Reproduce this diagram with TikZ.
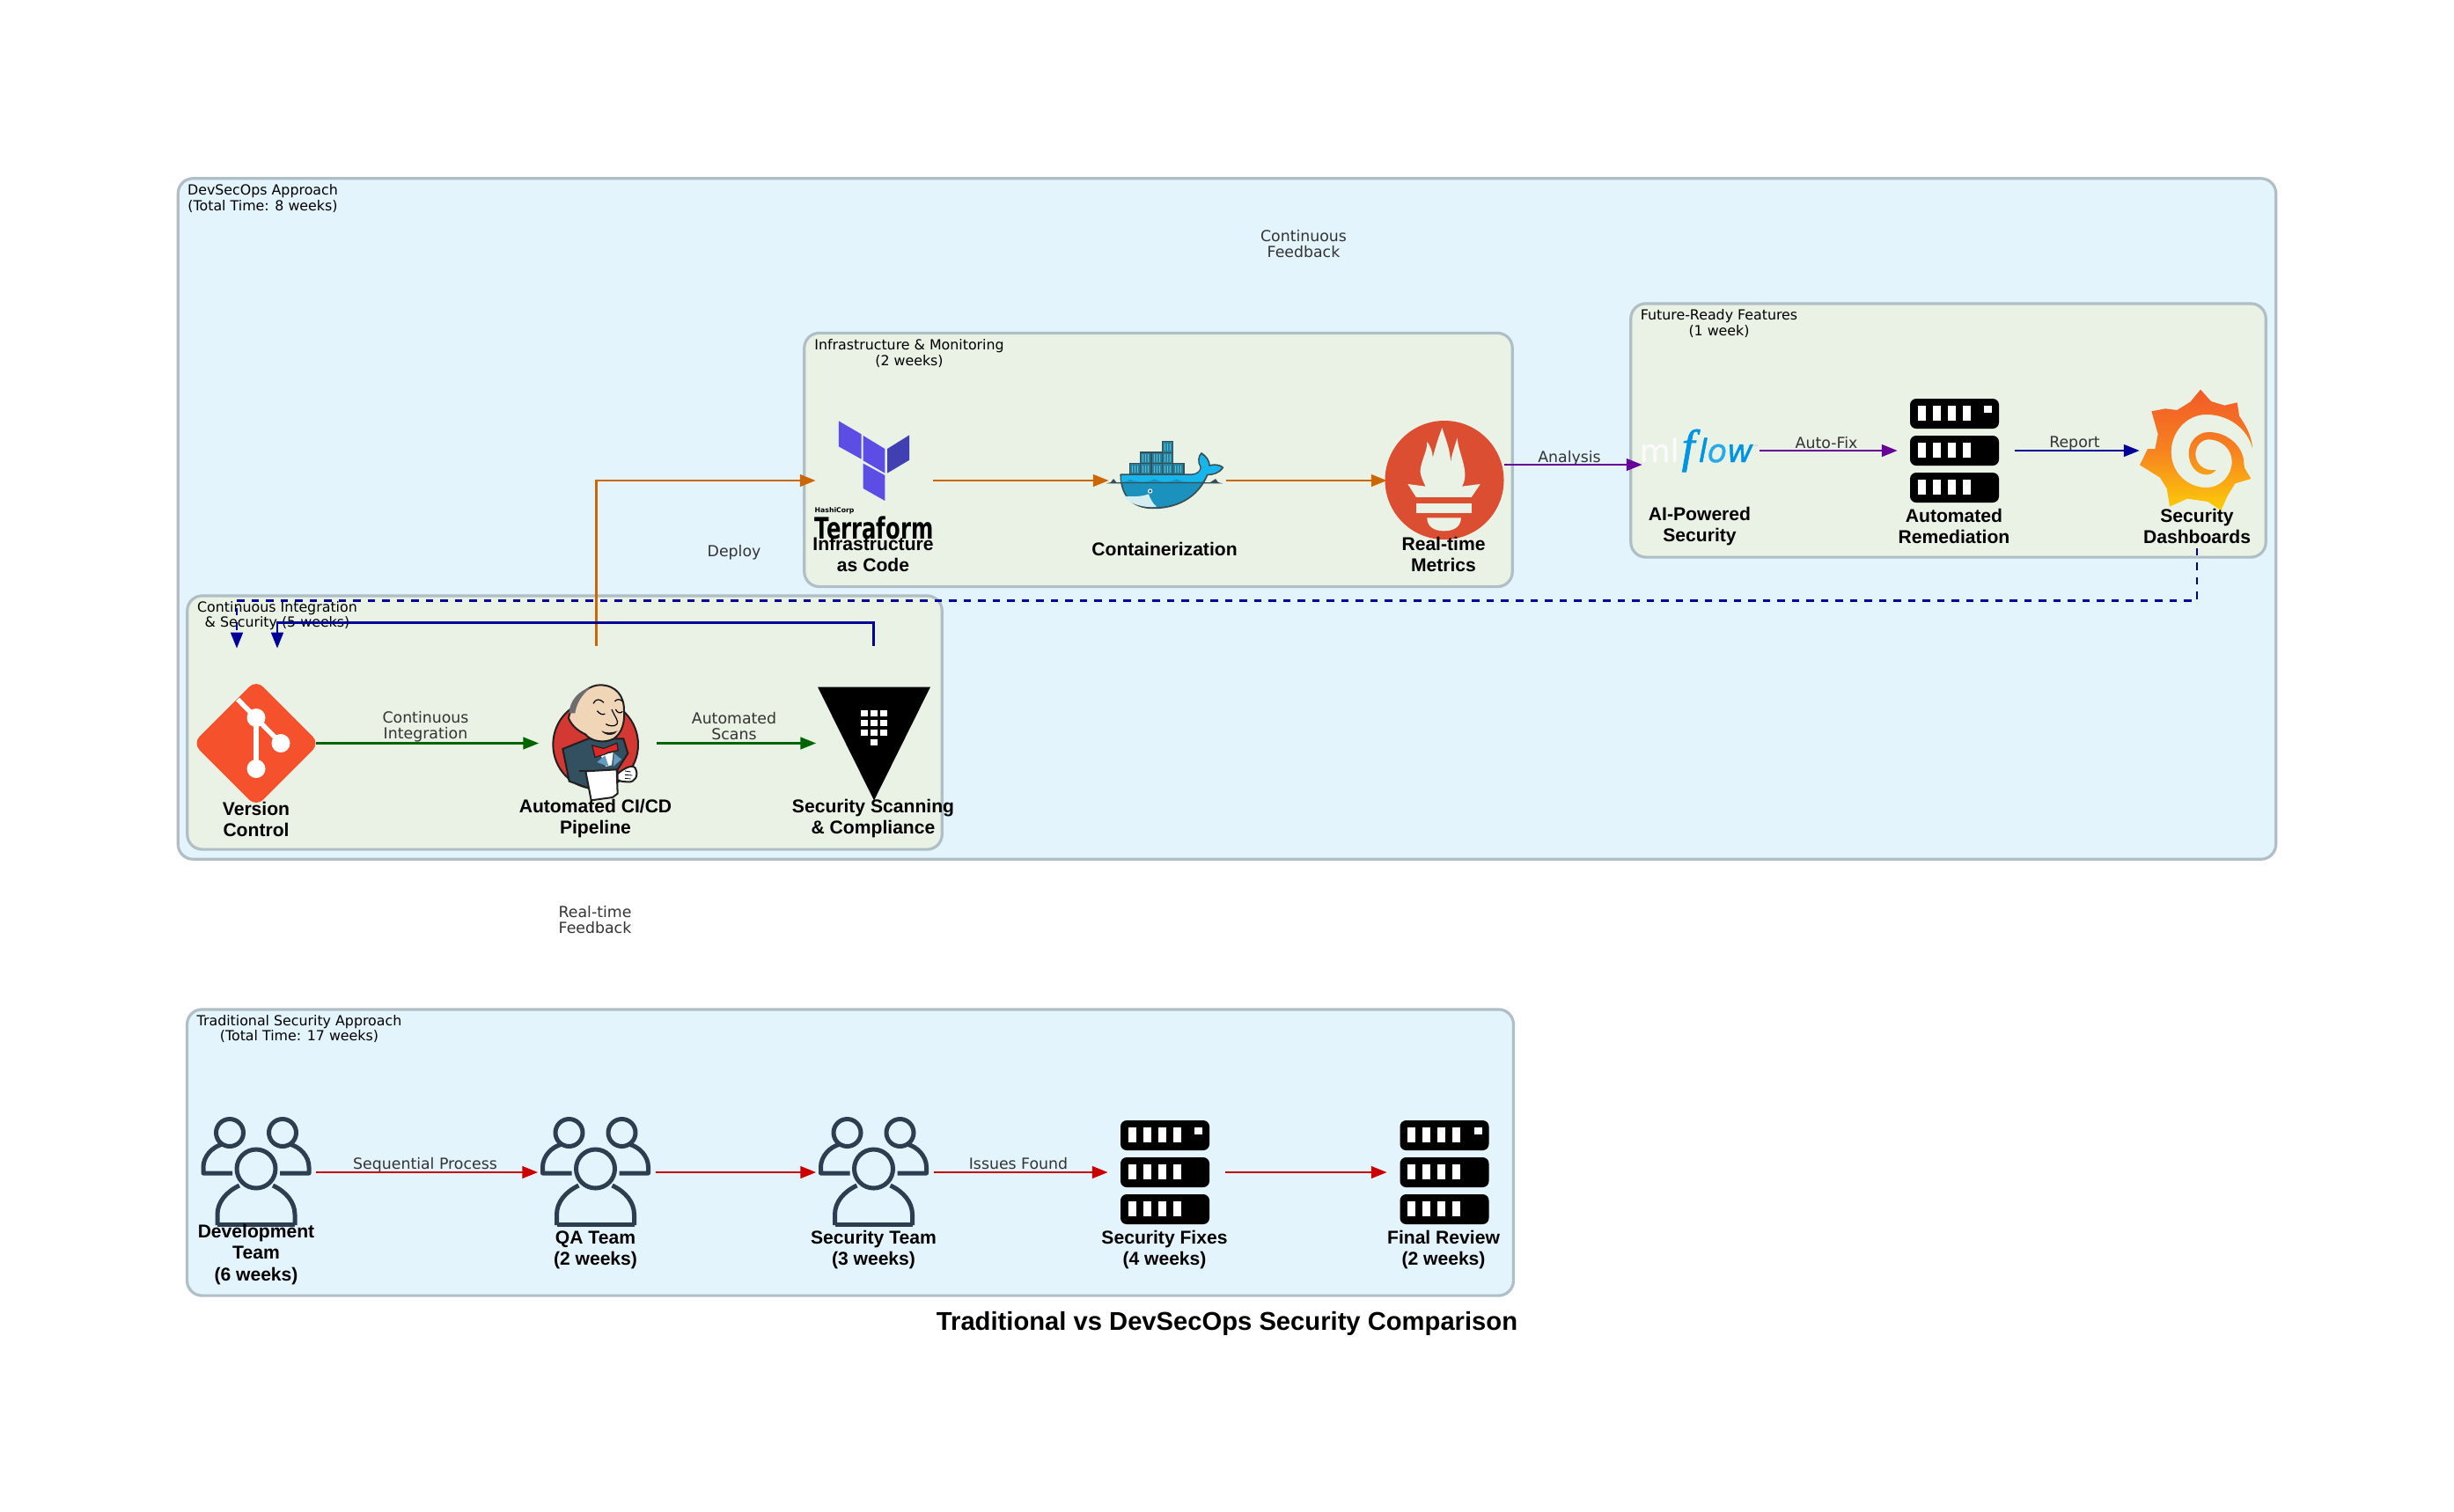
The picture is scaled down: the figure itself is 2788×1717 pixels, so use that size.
\documentclass[tikz,border=0pt]{standalone}
\usepackage{fontspec}
\setmainfont{DejaVu Sans}
\newfontfamily\capfont{Liberation Sans}
\newfontfamily\flowserif[FakeBold=1.6]{Liberation Serif}
\newfontfamily\flowsans[FakeBold=1.2]{DejaVu Sans}
\usetikzlibrary{arrows.meta,calc}
\definecolor{boxline}{HTML}{B0BEC5}
\definecolor{bluefill}{HTML}{E3F4FD}
\definecolor{greenfill}{HTML}{EAF2E6}
\definecolor{edgetext}{HTML}{333333}
\definecolor{cgreen}{HTML}{006400}
\definecolor{cred}{HTML}{CC0000}
\definecolor{corange}{HTML}{CC6600}
\definecolor{cpurple}{HTML}{660099}
\definecolor{cblue}{HTML}{000099}
\definecolor{peopleink}{HTML}{2D3E50}
\definecolor{gitred}{RGB}{244,81,44}
\definecolor{jink}{RGB}{35,31,32}
\definecolor{jred}{RGB}{211,56,51}
\definecolor{jnavy}{RGB}{51,80,97}
\definecolor{jvest}{RGB}{100,155,190}
\definecolor{jskin}{RGB}{240,214,183}
\definecolor{jhair}{RGB}{110,108,110}
\definecolor{jbow}{RGB}{218,40,40}
\definecolor{tfmain}{RGB}{92,78,229}
\definecolor{tfdark}{RGB}{64,64,178}
\definecolor{dkbox}{RGB}{36,130,158}
\definecolor{dkstripe}{RGB}{95,185,210}
\definecolor{dkbody}{RGB}{27,146,190}
\definecolor{dktop}{RGB}{23,181,235}
\definecolor{dkink}{RGB}{57,77,84}
\definecolor{dkbelly}{RGB}{212,237,241}
\definecolor{promred}{RGB}{220,78,49}
\definecolor{mlwhite}{RGB}{250,250,250}
\definecolor{mlblue}{RGB}{1,148,226}
\definecolor{mlmid}{RGB}{40,170,232}
\definecolor{grtop}{RGB}{241,90,41}
\definecolor{grmid}{RGB}{246,130,32}
\definecolor{grbot}{RGB}{252,205,8}
\tikzset{
  panel/.style={draw=boxline,line width=0.032cm,rounded corners=0.17cm},
  clusterlabel/.style={inner sep=0,align=center,text=black,yshift=-0.015cm,font=\fontsize{4.5pt}{5.05pt}\selectfont},
  iconlabel/.style={inner sep=0,align=center,text=black,font=\capfont\fontsize{6pt}{6.83pt}\selectfont\bfseries},
  edgelabel/.style={inner sep=0,align=center,text=edgetext,yshift=-0.015cm,font=\fontsize{4.93pt}{5.12pt}\selectfont},
  slot/.style={inner sep=0,minimum width=1.35cm,minimum height=2.2cm},
  link/.style={line width=0.029cm,-{Triangle[length=0.18cm,width=0.135cm]},shorten >=-0.03cm},
  serversicon/.pic={
    \foreach \t in {-59,-17,25}{
      \fill[black,rounded corners=0.07cm] (-50.5,\t) rectangle (50.5,\t+34);
      \foreach \w in {-42,-25,-8,9}{\fill[white] (\w,\t+8) rectangle (\w+9,\t+25);}
    }
    \fill[white] (33.5,-51) rectangle (42.5,-43);
  },
  peopleicon/.pic={
    \begin{scope}[draw=peopleink,line width=0.05cm,line join=round]
      \draw (-30,-45) circle (15.5);
      \draw (30,-45) circle (15.5);
      \draw (-27,1) -- (-60,1) -- (-60,-6) .. controls (-60,-18) and (-50,-29) .. (-38,-32);
      \draw (27,1) -- (60,1) -- (60,-6) .. controls (60,-18) and (50,-29) .. (38,-32);
      \draw (-44,60) -- (-44,48) .. controls (-44,34) and (-34,22) .. (-19,15);
      \draw (44,60) -- (44,48) .. controls (44,34) and (34,22) .. (19,15);
      \draw (-44,59) -- (44,59);
      \draw (0,-4) circle (22);
    \end{scope}
  }
}
\begin{document}
\begin{tikzpicture}[x=0.01cm,y=-0.01cm]
\useasboundingbox (0,0) rectangle (2788,1717);
\fill[white] (0,0) rectangle (2788,1717);

% panels
\node[panel,fill=bluefill,inner sep=0,minimum width=23.82cm,minimum height=7.73cm] (outerbox) at (1394,589.5) {};
\node[panel,fill=greenfill,inner sep=0,minimum width=7.21cm,minimum height=2.88cm] (futurebox) at (2213.5,489) {};
\node[panel,fill=greenfill,inner sep=0,minimum width=8.04cm,minimum height=2.88cm] (infrabox) at (1316,522.5) {};
\node[panel,fill=greenfill,inner sep=0,minimum width=8.57cm,minimum height=2.88cm] (cibox) at (641.5,821) {};
\node[panel,fill=bluefill,inner sep=0,minimum width=15.06cm,minimum height=3.25cm] (tradbox) at (966,1309.5) {};

% panel titles
\node[clusterlabel] (outertitle) at (298.5,224) {DevSecOps Approach\\(Total Time: 8 weeks)};
\node[clusterlabel] (infratitle) at (1033,400) {Infrastructure \& Monitoring\\(2 weeks)};
\node[clusterlabel] (futuretitle) at (1953,366) {Future-Ready Features\\(1 week)};
\node[clusterlabel] (cititle) at (315,698) {Continuous Integration\\\& Security (5 weeks)};
\node[clusterlabel] (tradtitle) at (340,1167.5) {Traditional Security Approach\\(Total Time: 17 weeks)};

% layout slots
\node[slot] (git) at (291,844.5) {};
\node[slot] (jenkins) at (677.5,844.5) {};
\node[slot] (vault) at (992.5,844.5) {};
\node[slot] (terraform) at (992,546) {};
\node[slot] (docker) at (1325,546) {};
\node[slot] (prom) at (1641,546) {};
\node[slot] (mlflow) at (1931,512) {};
\node[slot] (remed) at (2221,512) {};
\node[slot] (grafana) at (2496,512) {};
\node[slot] (dev) at (291,1332) {};
\node[slot] (qa) at (676.5,1332) {};
\node[slot] (secteam) at (992.5,1332) {};
\node[slot] (fixes) at (1324,1332) {};
\node[slot] (final) at (1641,1332) {};

% git icon
\begin{scope}[shift={(291,844.5)}]
  \fill[gitred,rounded corners=0.11cm] (0,-72) -- (72,0) -- (0,72) -- (-72,0) -- cycle;
  \draw[white,line width=0.055cm] (-21,-50) -- (28,0);
  \draw[white,line width=0.055cm] (0,-29) -- (0,29);
  \fill[white] (0,-29) circle (10.5) (28,0) circle (10.5) (0,29) circle (10.5);
\end{scope}

% jenkins icon
\begin{scope}[shift={(600,771)},scale=0.3333]
  \draw[draw=jink,line width=0.02cm,fill=jred] (230,225) ellipse (145 and 150);
  \draw[draw=jink,line width=0.02cm,fill=jnavy]
    (118,240) -- (205,205) -- (325,205) -- (340,255) -- (305,310) -- (300,385) -- (210,375) -- (140,350) -- cycle;
  \fill[white] (248,262) -- (290,252) -- (285,295) -- (265,300) -- cycle;
  \fill[jvest] (235,285) -- (262,262) -- (275,300) -- cycle;
  \fill[jvest] (293,255) -- (318,275) -- (290,300) -- cycle;
  \draw[draw=jink,line width=0.02cm,fill=jskin]
    (158,95) .. controls (175,45) and (215,22) .. (245,22) .. controls (300,22) and (328,60) .. (327,110)
    .. controls (330,150) and (320,185) .. (292,205) .. controls (260,222) and (215,215) .. (195,190)
    .. controls (175,180) and (150,165) .. (138,135) .. controls (140,115) and (150,105) .. (158,95) -- cycle;
  \fill[jhair] (140,118) .. controls (140,75) and (175,40) .. (212,30) .. controls (180,60) and (165,85) .. (160,118) -- cycle;
  \draw[line width=0.012cm] (235,110) .. controls (245,122) and (255,125) .. (262,120);
  \draw[line width=0.012cm] (298,105) .. controls (305,118) and (315,120) .. (322,112);
  \draw[line width=0.012cm] (222,85) .. controls (230,68) and (245,68) .. (258,82);
  \draw[line width=0.012cm] (295,78) .. controls (303,68) and (315,70) .. (322,78);
  \draw[line width=0.012cm] (285,105) .. controls (295,130) and (310,145) .. (303,155) .. controls (295,165) and (275,162) .. (265,155);
  \fill[jink] (250,178) .. controls (265,198) and (295,195) .. (305,178) .. controls (285,186) and (265,186) .. (250,178) -- cycle;
  \draw[draw=jink,line width=0.012cm,fill=jbow]
    (218,228) -- (258,238) -- (303,220) -- (307,245) -- (272,252) -- (262,258) -- (228,268) -- cycle;
  \draw[draw=jink,line width=0.02cm,fill=white]
    (196,316) -- (302,310) -- (305,392) -- (288,405) -- (215,415) -- cycle;
  \draw[draw=jink,line width=0.02cm,fill=white]
    (305,325) .. controls (320,310) and (355,290) .. (365,305) .. controls (378,330) and (365,355) .. (340,352) .. controls (325,352) and (312,350) .. (305,345) -- cycle;
  \draw[line width=0.008cm] (330,315) -- (350,318) (330,328) -- (355,330) (330,340) -- (350,342);
  \draw[line width=0.015cm,draw=jink] (175,315) -- (200,315);
\end{scope}

% vault icon
\begin{scope}[shift={(993,844.5)}]
  \fill[black] (-64,-64) -- (64,-64) -- (0,65) -- cycle;
  \foreach \cy in {-34,-23,-12}{\foreach \cx in {-11,0,11}{\fill[white] (\cx-3.8,\cy-3.6) rectangle (\cx+3.8,\cy+3.6);}}
  \fill[white] (-3.8,-4.8) rectangle (3.8,2.4);
\end{scope}

% terraform icon
\begin{scope}[shift={(910,370)},xscale=0.5356,yscale=0.3333]
  \fill[tfmain] (80,325) -- (128,370) -- (128,455) -- (80,412) -- cycle;
  \fill[tfmain] (132,375) -- (178,420) -- (178,503) -- (132,460) -- cycle;
  \fill[tfdark] (183,420) -- (230,373) -- (230,458) -- (183,503) -- cycle;
  \fill[tfmain] (132,470) -- (178,510) -- (178,597) -- (132,555) -- cycle;
\end{scope}
\node[inner sep=0,anchor=west,font=\fontsize{2.2pt}{2.2pt}\selectfont\bfseries] (hashitext) at (925,580) {HashiCorp};
\node[inner sep=0,anchor=west,font=\fontsize{9.6pt}{9.6pt}\selectfont\bfseries] (terratext) at (925,600) {\scalebox{0.72}[1]{Terraform}};

% docker icon (coordinates: 3x crop from 1250,490)
\begin{scope}[shift={(1250,490)},scale=0.3333]
  \foreach \cx/\cy in {100/110,137/110,174/110,211/110,248/110,137/72,174/72,211/72,211/35}{
    \draw[draw=dkink,line width=0.014cm,fill=dkbox] (\cx,\cy) rectangle (\cx+37,\cy+38);
    \draw[dkstripe,line width=0.005cm] (\cx+9,\cy+6) -- (\cx+9,\cy+32) (\cx+18,\cy+6) -- (\cx+18,\cy+32) (\cx+27,\cy+6) -- (\cx+27,\cy+32);
  }
  \draw[draw=dkink,line width=0.018cm,fill=dkbody,line join=round]
    (70,148) -- (310,148) .. controls (330,148) and (345,135) .. (343,122)
    .. controls (332,105) and (335,85) .. (345,75) .. controls (360,85) and (372,100) .. (372,117)
    .. controls (390,112) and (410,115) .. (418,124) .. controls (405,142) and (385,148) .. (365,148)
    .. controls (340,210) and (280,262) .. (180,262) .. controls (110,262) and (70,220) .. (70,148) -- cycle;
  \fill[dktop]
    (72,150) -- (310,150) .. controls (330,150) and (345,137) .. (345,122)
    .. controls (334,105) and (337,88) .. (345,79) .. controls (358,88) and (370,102) .. (370,120)
    .. controls (390,115) and (405,117) .. (414,124) .. controls (402,140) and (385,146) .. (363,146)
    .. controls (358,158) and (352,168) .. (347,172)
    .. controls (330,172) and (310,172) .. (295,172) .. controls (285,172) and (270,168) .. (260,163)
    .. controls (250,168) and (235,172) .. (222,172) .. controls (210,172) and (195,168) .. (185,163)
    .. controls (175,168) and (160,172) .. (145,172) .. controls (130,172) and (112,168) .. (100,164)
    .. controls (95,170) and (85,172) .. (72,172) -- cycle;
  \fill[dkink] (20,178) -- (36,174) -- (45,162) -- (55,174) -- (375,174) -- (393,162) -- (402,174) -- (418,178) -- cycle;
  \fill[dktop] (72,164) -- (72,172) -- (85,172) -- cycle;
  \fill[dkbody] (76,178) -- (345,178) .. controls (320,215) and (280,255) .. (180,258) .. controls (110,258) and (80,215) .. (76,178) -- cycle;
  \fill[dkbelly] (80,221) .. controls (110,225) and (145,222) .. (165,214) .. controls (170,230) and (180,248) .. (192,257) .. controls (150,262) and (100,250) .. (80,221) -- cycle;
  \fill[white] (170,204) circle (8);
  \fill[dkink] (170,204) circle (5);
\end{scope}

% prometheus icon
\fill[promred] (1641,545.5) circle (67.5);
\begin{scope}[shift={(910,370)},xscale=0.5356,yscale=0.3333]
  \fill[greenfill]
    (1287,540) -- (1305,585) -- (1422,585) -- (1441,540) -- (1402,548)
    .. controls (1420,500) and (1395,440) .. (1392,383) .. controls (1385,420) and (1380,440) .. (1378,470)
    .. controls (1378,420) and (1365,380) .. (1360,348) .. controls (1350,390) and (1345,420) .. (1340,450)
    .. controls (1340,430) and (1335,410) .. (1328,395) .. controls (1330,430) and (1308,480) .. (1315,510)
    .. controls (1318,525) and (1322,540) .. (1325,548) -- cycle;
  \fill[greenfill] (1305,605) rectangle (1422,638);
  \fill[greenfill] (1328,655) -- (1400,655) .. controls (1400,685) and (1385,700) .. (1364,700) .. controls (1343,700) and (1328,685) .. (1328,655) -- cycle;
\end{scope}

% mlflow icon
\node[inner sep=0,anchor=base west,text=mlwhite,font=\flowsans\fontsize{10.2pt}{10.2pt}\selectfont] (mlword) at (1862,525) {ml};
\node[inner sep=0,anchor=base west,text=mlblue,font=\flowserif\itshape\fontsize{15pt}{15pt}\selectfont] (flowf) at (1910,525) {f};
\node[inner sep=0,anchor=base west,text=mlblue,font=\flowsans\itshape\fontsize{10.3pt}{10.3pt}\selectfont] (flowrest) at (1929,525) {l\textcolor{mlmid}{o}w};
\node[inner sep=0,text=boxline,font=\fontsize{1.8pt}{1.8pt}\selectfont] (flowtm) at (1995,508) {™};

% remediation server and grafana
\pic at (2220.5,512) {serversicon};
\begin{scope}[shift={(2440,430)},scale=0.3333]
  \path[top color=grtop,bottom color=grbot,middle color=grmid]
    (180,38) -- (216,78) -- (262,92) -- (305,82) -- (312,128) .. controls (338,165) and (355,200) .. (357,238)
    .. controls (340,170) and (275,123) .. (200,123)
    .. controls (130,123) and (80,185) .. (80,250)
    .. controls (80,320) and (135,372) .. (200,372)
    .. controls (250,372) and (287,330) .. (287,283)
    .. controls (287,240) and (250,208) .. (208,208)
    .. controls (183,208) and (163,230) .. (163,258)
    .. controls (163,290) and (190,318) .. (233,312)
    .. controls (222,325) and (210,328) .. (200,328)
    .. controls (165,328) and (140,295) .. (140,255)
    .. controls (140,215) and (170,183) .. (208,183)
    .. controls (275,183) and (328,235) .. (328,290)
    -- (330,305) -- (352,342) -- (298,358) -- (272,400) -- (250,450) -- (205,420) -- (135,410) -- (75,437)
    -- (65,375) -- (42,338) -- (-27,295) -- (0,240) -- (25,240) -- (35,190) -- (13,112) -- (60,103) -- (100,108) -- (145,80) -- cycle;
\end{scope}

% traditional row icons
\pic at (291,1332) {peopleicon};
\pic at (676.5,1332) {peopleicon};
\pic at (992.5,1332) {peopleicon};
\pic at (1323.5,1332) {serversicon};
\pic at (1641,1332) {serversicon};

% icon captions
\node[iconlabel] (l1) at (291,930.5) {Version\\Control};
\node[iconlabel] (l2) at (676.5,930.5) {Automated CI/CD\\Pipeline};
\node[iconlabel] (l3) at (992,930.5) {Security Scanning\\\& Compliance};
\node[iconlabel] (l4) at (992,630) {Infrastructure\\as Code};
\node[iconlabel] (l5) at (1323,624) {Containerization};
\node[iconlabel] (l6) at (1640,630) {Real-time\\Metrics};
\node[iconlabel] (l7) at (1931,598.5) {AI-Powered\\Security};
\node[iconlabel] (l8) at (2220,598) {Automated\\Remediation};
\node[iconlabel] (l9) at (2496,597.5) {Security\\Dashboards};
\node[iconlabel] (l10) at (291,1425.5) {Development\\Team\\(6 weeks)};
\node[iconlabel] (l11) at (676.5,1420) {QA Team\\(2 weeks)};
\node[iconlabel] (l12) at (992.5,1420) {Security Team\\(3 weeks)};
\node[iconlabel] (l13) at (1323,1420) {Security Fixes\\(4 weeks)};
\node[iconlabel] (l14) at (1640,1420) {Final Review\\(2 weeks)};

% connector labels
\node[edgelabel] (e1) at (1481,275.5) {Continuous\\Feedback};
\node[edgelabel] (e2) at (676,1044) {Real-time\\Feedback};
\node[edgelabel] (e3) at (834,626) {Deploy};
\node[edgelabel] (e4) at (1783,519) {Analysis};
\node[edgelabel] (e5) at (2075,502) {Auto-Fix};
\node[edgelabel] (e6) at (2357,502) {Report};
\node[edgelabel] (e7) at (483,1322) {Sequential Process};
\node[edgelabel] (e8) at (1157,1321) {Issues Found};
\node[edgelabel] (e9) at (483.5,824) {Continuous\\Integration};
\node[edgelabel] (e10) at (834,824) {Automated\\Scans};
\node[inner sep=0,font=\capfont\fontsize{8.3pt}{9pt}\selectfont\bfseries] (title) at (1394,1503.5) {Traditional vs DevSecOps Security Comparison};

% connectors
\draw[link,cgreen] (git.east) -- (jenkins.west);
\draw[link,cgreen] (jenkins.east) -- (vault.west);
\draw[link,corange] (jenkins.north) -- (jenkins.north |- terraform.west) -- (terraform.west);
\draw[link,corange] (terraform.east) -- (docker.west);
\draw[link,corange] (docker.east) -- (prom.west);
\draw[link,cpurple] ($(prom.east)+(0,-18)$) -- ($(mlflow.west)+(0,16)$);
\draw[link,cpurple] (mlflow.east) -- (remed.west);
\draw[link,cblue] (remed.east) -- (grafana.west);
\coordinate (gitdash) at ($(git.north)+(-22,3)$);
\coordinate (gitsolid) at ($(git.north)+(24,3)$);
\coordinate (dashrun) at ($(grafana.south)+(0,60)$);
\coordinate (solidrun) at ($(vault.north)+(0,-26)$);
\draw[link,cblue,shorten >=0pt,dash pattern=on 0.085cm off 0.08cm] (grafana.south) -- (dashrun) -- (dashrun -| gitdash) -- (gitdash);
\draw[link,cblue,shorten >=0pt] (vault.north) -- (solidrun) -- (solidrun -| gitsolid) -- (gitsolid);
\draw[link,cred] (dev.east) -- (qa.west);
\draw[link,cred] (qa.east) -- (secteam.west);
\draw[link,cred] (secteam.east) -- (fixes.west);
\draw[link,cred] (fixes.east) -- (final.west);
\end{tikzpicture}
\end{document}
